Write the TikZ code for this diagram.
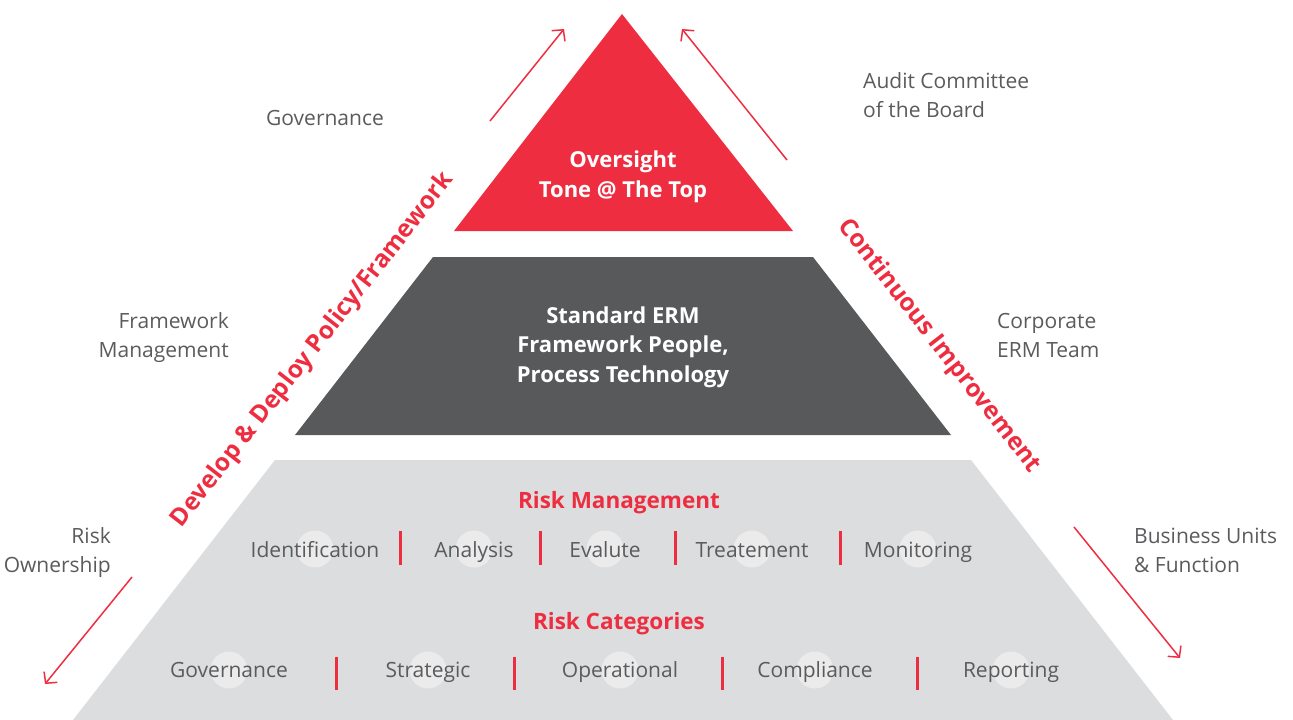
\documentclass[tikz,border=0pt]{standalone}
\usepackage{fontspec}
\setmainfont{Open Sans}
\usetikzlibrary{arrows.meta}
\definecolor{ermred}{HTML}{EE2E40}
\definecolor{ermdark}{HTML}{58595B}
\definecolor{ermlight}{HTML}{DCDDDF}
\definecolor{ermdot}{HTML}{EBEBEC}
\definecolor{ermtext}{HTML}{5A5B5D}
\tikzset{
  lbl/.style={text=ermtext,font=\fontsize{21}{29}\selectfont,inner sep=0pt},
  item/.style={text=ermtext,font=\fontsize{21}{25}\selectfont,inner sep=0pt,anchor=base},
  dot/.style={circle,fill=ermdot,minimum size=37pt,inner sep=0pt},
  tier/.style={text=white,font=\bfseries\fontsize{22}{29.5}\selectfont,align=center,inner sep=0pt},
  head/.style={text=ermred,font=\bfseries\fontsize{22.5}{26}\selectfont,inner sep=0pt},
  side/.style={text=ermred,font=\bfseries\fontsize{24.5}{30}\selectfont,inner sep=0pt},
  arr/.style={ermred,line width=1.5pt,-{Straight Barb[length=8pt,width=17pt]}},
  sep/.style={ermred,line width=3pt}
}
\begin{document}
\begin{tikzpicture}[x=1pt,y=-1pt]
\useasboundingbox (0,0) rectangle (1293,720);
%SHAPES
\fill[ermred] (622,14) -- (793,231) -- (454,231) -- cycle;
\fill[ermdark] (433,257) -- (813,257) -- (951,435) -- (295,435) -- cycle;
\fill[ermlight] (275,460) -- (971,460) -- (1173,720) -- (73,720) -- cycle;

%NODE
\node[tier] (A) at (623,177) {Oversight\\Tone @ The Top};
\node[tier] (B) at (623,347) {Standard ERM\\Framework People,\\Process Technology};
\node[head] (C) at (619,503) {Risk Management};
\node[head] (D) at (619,624) {Risk Categories};

\node[dot] (c1) at (315,549) {};
\node[dot] (c2) at (474,549) {};
\node[dot] (c3) at (605,549) {};
\node[dot] (c4) at (752,549) {};
\node[dot] (c5) at (918,549) {};
\node[dot] (c6) at (229,670) {};
\node[dot] (c7) at (428,670) {};
\node[dot] (c8) at (620,670) {};
\node[dot] (c9) at (815,670) {};
\node[dot] (c10) at (1011,670) {};

\node[item] (i1) at (315,557) {Identification};
\node[item] (i2) at (474,557) {Analysis};
\node[item] (i3) at (605,557) {Evalute};
\node[item] (i4) at (752,557) {Treatement};
\node[item] (i5) at (918,557) {Monitoring};
\node[item] (i6) at (229,677) {Governance};
\node[item] (i7) at (428,677) {Strategic};
\node[item] (i8) at (620,677) {Operational};
\node[item] (i9) at (815,677) {Compliance};
\node[item] (i10) at (1011,677) {Reporting};

\node[lbl] (E) at (325,118) {Governance};
\node[lbl,anchor=west,align=left] (F) at (863,95) {Audit Committee\\of the Board};
\node[lbl,anchor=east,align=right] (G) at (229,338) {Framework\\Management};
\node[lbl,anchor=west,align=left] (H) at (997,335) {Corporate\\ERM Team};
\node[lbl,anchor=east,align=right] (I) at (111,553) {Risk\\Ownership};
\node[lbl,anchor=west,align=left] (J) at (1134,550) {Business Units\\\& Function};

\node[side,rotate=52] (K) at (313,350) {Develop \& Deploy Policy/Framework};
\node[side,rotate=-52] (L) at (939,346) {Continuous Improvement};

%SEPARATORS
\draw[sep] (400,531) -- (400,565);
\draw[sep] (540,531) -- (540,565);
\draw[sep] (675,531) -- (675,565);
\draw[sep] (840,531) -- (840,565);
\draw[sep] (336,657) -- (336,690);
\draw[sep] (514,657) -- (514,690);
\draw[sep] (722,657) -- (722,690);
\draw[sep] (917,657) -- (917,690);

%EDGE
\coordinate (p1) at (490,121);
\coordinate (q1) at (564,29);
\coordinate (p2) at (787,160);
\coordinate (q2) at (682,29);
\coordinate (p3) at (132,577);
\coordinate (q3) at (45,684);
\coordinate (p4) at (1074,527);
\coordinate (q4) at (1180,658);
\draw[arr] (p1) -- (q1);
\draw[arr] (p2) -- (q2);
\draw[arr] (p3) -- (q3);
\draw[arr] (p4) -- (q4);
\end{tikzpicture}
\end{document}
